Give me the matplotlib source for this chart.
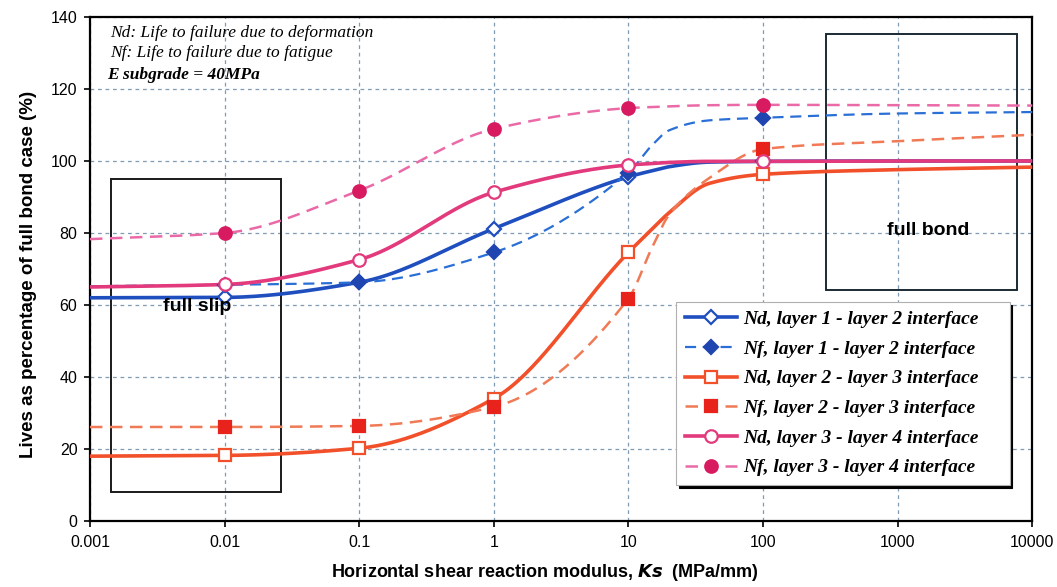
import numpy as np
import matplotlib
matplotlib.use("Agg")
import matplotlib.pyplot as plt
from matplotlib.patches import Rectangle
from matplotlib.lines import Line2D

# Horizontal shear reaction modulus Ks (MPa/mm)
ks = [0.001, 0.01, 0.1, 1, 10, 15, 20, 40, 100, 1000, 10000]
# Ks values that carry a marker
marker_ks = [0.01, 0.1, 1, 10, 100]

# Lives as percentage of the full bond case (%)
nd_12 = [62.0, 62.1, 66.3, 81.2, 95.6, 97.3, 98.4, 99.7, 99.9, 100.0, 100.0]
nf_12 = [65.2, 65.6, 66.3, 74.6, 96.8, 104.4, 108.5, 111.3, 112.0, 113.2, 113.6]
nd_23 = [18.0, 18.2, 20.2, 34.0, 74.6, 81.1, 85.6, 93.8, 96.3, 97.6, 98.3]
nf_23 = [26.1, 26.1, 26.4, 31.7, 61.8, 76.0, 85.0, 95.3, 103.3, 105.5, 107.3]
nd_34 = [65.0, 65.7, 72.6, 91.3, 98.9, 99.3, 99.6, 99.9, 99.9, 100.0, 100.0]
nf_34 = [78.3, 80.0, 91.8, 108.9, 114.7, 115.0, 115.2, 115.5, 115.6, 115.5, 115.4]

labels = [
    "Nd, layer 1 - layer 2 interface",
    "Nf, layer 1 - layer 2 interface",
    "Nd, layer 2 - layer 3 interface",
    "Nf, layer 2 - layer 3 interface",
    "Nd, layer 3 - layer 4 interface",
    "Nf, layer 3 - layer 4 interface",
]

x_ticks = [0.001, 0.01, 0.1, 1, 10, 100, 1000, 10000]
x_tick_labels = ["0.001", "0.01", "0.1", "1", "10", "100", "1000", "10000"]
y_ticks = [0, 20, 40, 60, 80, 100, 120, 140]


def smooth(xs, ys, n=60):
    """Shape-preserving cubic (Fritsch-Carlson) curve in log-x space."""
    lx = np.log10(np.asarray(xs, float))
    y = np.asarray(ys, float)
    h = np.diff(lx)
    d = np.diff(y) / h
    m = np.zeros_like(y)
    m[0], m[-1] = d[0], d[-1]
    for i in range(1, len(y) - 1):
        if d[i - 1] * d[i] <= 0:
            m[i] = 0.0
        else:
            w1 = 2 * h[i] + h[i - 1]
            w2 = h[i] + 2 * h[i - 1]
            m[i] = (w1 + w2) / (w1 / d[i - 1] + w2 / d[i])
    px, py = [], []
    for i in range(len(y) - 1):
        t = np.linspace(0, 1, n)
        if i > 0:
            t = t[1:]
        h00 = 2 * t**3 - 3 * t**2 + 1
        h10 = t**3 - 2 * t**2 + t
        h01 = -2 * t**3 + 3 * t**2
        h11 = t**3 - t**2
        px.append(lx[i] + t * h[i])
        py.append(h00 * y[i] + h10 * h[i] * m[i] + h01 * y[i + 1]
                  + h11 * h[i] * m[i + 1])
    return 10 ** np.concatenate(px), np.concatenate(py)


fig = plt.figure(figsize=(10.57, 5.87), dpi=100)
ax = fig.add_axes([0.0851, 0.1125, 0.8915, 0.8585])

blue_s, blue_d = "#1f4fbf", "#2a6fd6"
red_s, red_d = "#f2502a", "#f07a55"
pink_s, pink_d = "#e23a7c", "#ea6aa8"

series = [
    (nd_12, blue_s, "-", "D", "white", blue_s, 2.6, 7),
    (nf_12, blue_d, (0, (5, 3)), "D", "#1f45b0", "#1f45b0", 1.6, 7),
    (nd_23, red_s, "-", "s", "white", red_s, 2.6, 9),
    (nf_23, red_d, (0, (5, 3)), "s", "#e8231b", "#e8231b", 1.8, 9),
    (nd_34, pink_s, "-", "o", "white", pink_s, 2.6, 9),
    (nf_34, pink_d, (0, (5, 3)), "o", "#d81b60", "#d81b60", 1.8, 9),
]

handles = []
for (vals, col, ls, mk, mfc, mec, lw, ms), lab in zip(series, labels):
    sx, sy = smooth(ks, vals)
    ax.plot(sx, sy, color=col, linestyle=ls, linewidth=lw, zorder=3,
            solid_capstyle="butt", clip_on=False)
    mx = [k for k in ks if k in marker_ks]
    my = [v for k, v in zip(ks, vals) if k in marker_ks]
    ax.plot(mx, my, linestyle="none", marker=mk, markersize=ms,
            markerfacecolor=mfc, markeredgecolor=mec, markeredgewidth=1.6,
            zorder=4)
    handles.append(Line2D([], [], color=col, linestyle=ls, linewidth=lw,
                          marker=mk, markersize=ms, markerfacecolor=mfc,
                          markeredgecolor=mec, markeredgewidth=1.6))

ax.set_xscale("log")
ax.set_xlim(0.001, 10000)
ax.set_ylim(0, 140)
ax.set_xticks(x_ticks)
ax.set_xticklabels(x_tick_labels)
ax.xaxis.set_minor_locator(matplotlib.ticker.NullLocator())
ax.set_yticks(y_ticks)

ax.grid(True, which="major", linestyle=(0, (3, 3)), color="#7f9cb4",
        linewidth=0.9, zorder=0)
ax.set_axisbelow(True)
for s in ax.spines.values():
    s.set_linewidth(1.6)
    s.set_color("black")
ax.tick_params(axis="both", direction="out", length=4, width=1.2,
               labelsize=11.5)
ax.tick_params(axis="x", pad=6)
ax.tick_params(axis="y", pad=5)
for t in ax.get_xticklabels() + ax.get_yticklabels():
    t.set_fontfamily("Liberation Sans")

ax.set_ylabel("Lives as percentage of full bond case (%)",
              fontfamily="Liberation Sans", fontweight="bold", fontsize=13.5)
ax.yaxis.set_label_coords(-0.056, 0.489)
fig.text(0.5155, 0.024,
         r"Horizontal shear reaction modulus, $\mathbfit{Ks}$  (MPa/mm)",
         ha="center", va="center", fontfamily="Liberation Sans",
         fontweight="bold", fontsize=13)

# region boxes
ax.add_patch(Rectangle((0.00144, 8), 0.0262 - 0.00144, 95 - 8,
                       fill=False, edgecolor="#1a1a1a", linewidth=1.4,
                       zorder=2))
ax.add_patch(Rectangle((294, 64.3), 7727 - 294, 135.3 - 64.3,
                       fill=False, edgecolor="#1a2a33", linewidth=1.4,
                       zorder=2))
ax.text(0.0063, 59.5, "full slip", ha="center", va="center",
        fontfamily="Liberation Sans", fontweight="bold", fontsize=14,
        zorder=5)
ax.text(1700, 80.8, "full bond", ha="center", va="center",
        fontfamily="Liberation Sans", fontweight="bold", fontsize=14,
        zorder=5)

# notes
ax.text(0.00141, 135.5, "Nd: Life to failure due to deformation",
        fontfamily="Liberation Serif", fontstyle="italic", fontsize=12.5,
        va="center", ha="left")
ax.text(0.00141, 129.9, "Nf: Life to failure due to fatigue",
        fontfamily="Liberation Serif", fontstyle="italic", fontsize=12.5,
        va="center", ha="left")
ax.text(0.00134, 123.9, "E subgrade = 40MPa",
        fontfamily="Liberation Serif", fontstyle="italic", fontweight="bold",
        fontsize=12.5, va="center", ha="left")

leg = ax.legend(handles=handles, labels=labels, loc="upper left",
                bbox_to_anchor=(0.622, 0.0, 0.354, 0.435), mode="expand",
                borderaxespad=0, frameon=True, fancybox=False,
                handlelength=2.7, handletextpad=0.3, labelspacing=0.62,
                borderpad=0.45,
                prop={"family": "Liberation Serif", "style": "italic",
                      "weight": "bold", "size": 14},
                shadow={"color": "black", "alpha": 1.0})
leg.get_frame().set_edgecolor("#b0b0b0")
leg.get_frame().set_linewidth(0.8)
leg.set_zorder(6)

fig.savefig("out.png", dpi=100, facecolor="white")
